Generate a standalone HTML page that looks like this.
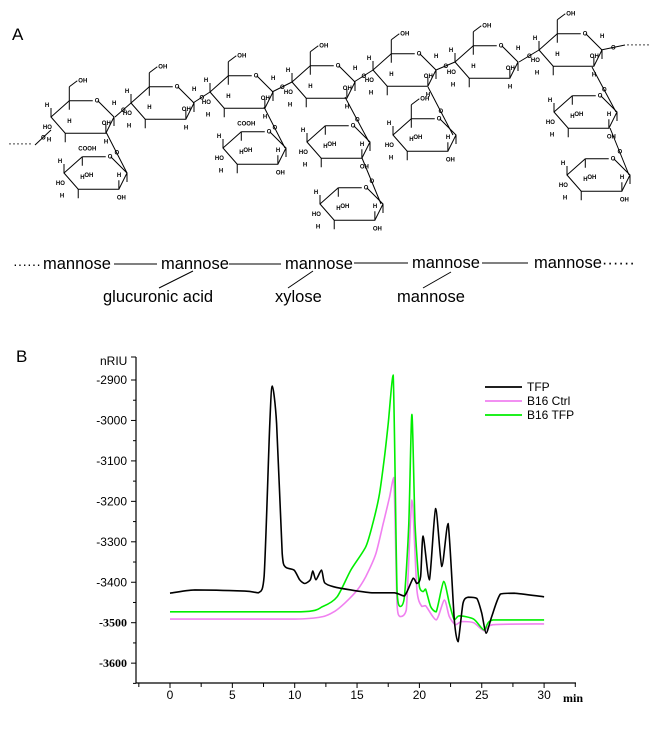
<!DOCTYPE html>
<html><head><meta charset="utf-8"><style>
html,body{margin:0;padding:0;background:#fff;}
svg{display:block;font-family:"Liberation Sans",Arial,sans-serif;}
.r{fill:none;stroke:#000;stroke-width:1;}
.s{font-size:6px;font-weight:bold;}
</style></head><body>
<svg id="fig" width="669" height="738" viewBox="0 0 669 738">
<g id="partA">
<text x="12" y="40" font-size="17">A</text>
</g>
<g id="rows" font-size="16.5">
<text x="13" y="269" font-size="14">······</text>
<text x="43" y="269">mannose</text>
<line x1="114" y1="264" x2="157" y2="264" stroke="#000"/>
<text x="161" y="269">mannose</text>
<line x1="229" y1="264" x2="281" y2="264" stroke="#000"/>
<text x="285" y="269">mannose</text>
<line x1="354" y1="263" x2="408" y2="263" stroke="#000"/>
<text x="412" y="268">mannose</text>
<line x1="482" y1="263" x2="528" y2="263" stroke="#000"/>
<text x="534" y="268">mannose······</text>
<line x1="159" y1="288" x2="193" y2="271" stroke="#000"/>
<line x1="288" y1="288" x2="313" y2="271" stroke="#000"/>
<line x1="423" y1="288" x2="451" y2="272" stroke="#000"/>
<text x="103" y="302">glucuronic acid</text>
<text x="275" y="302">xylose</text>
<text x="397" y="302">mannose</text>
</g>
<g id="chart">
<text x="16" y="362" font-size="17">B</text>
<text x="100" y="365" font-size="12">nRIU</text>
<text x="563" y="702" font-size="12" font-weight="bold" font-family="Liberation Serif,serif">min</text>
<g id="axes"></g>
<g id="series"></g>
<g id="legend"></g>
</g>
</svg>
<script>
const xTicks=[0,5,10,15,20,25,30];
const yTicks=[-2900,-3000,-3100,-3200,-3300,-3400,-3500,-3600];
const seriesNames=["TFP","B16 Ctrl","B16 TFP"];
const tfpT=[0,2,6,7.1,7.55,8.0,8.2,8.55,9.0,9.25,9.95,10.4,10.8,11.25,11.45,11.7,12.15,12.4,13.1,14.5,16.2,18,18.8,19.5,19.8,20.1,20.3,20.8,21.3,21.8,22.3,22.8,23.1,23.5,23.9,24.6,25.0,25.35,25.8,26.5,27.6,30];
const tfpV=[-3427,-3419,-3422,-3426,-3386,-3008,-2915,-3008,-3329,-3362,-3370,-3394,-3403,-3394,-3372,-3394,-3370,-3401,-3411,-3419,-3426,-3426,-3434,-3390,-3403,-3386,-3286,-3394,-3218,-3361,-3255,-3493,-3547,-3452,-3437,-3440,-3477,-3526,-3485,-3429,-3427,-3436];
const ctrlT=[0,10,12.25,13.2,14,15,15.7,16.5,17.1,17.6,17.95,18.2,18.45,18.95,19.4,19.8,20.2,20.5,21.35,22.0,22.4,22.9,23.4,24.35,25.2,25.9,30];
const ctrlV=[-3491,-3491,-3485,-3472,-3452,-3420,-3386,-3330,-3255,-3190,-3141,-3452,-3485,-3468,-3197,-3419,-3460,-3458,-3493,-3444,-3485,-3505,-3497,-3500,-3520,-3505,-3503];
const b16T=[0,10.5,12.25,13.4,14.5,15.7,16.3,16.8,17.2,17.5,17.9,18.2,18.45,18.8,19.15,19.4,19.65,20.0,20.3,20.5,20.9,21.35,21.95,22.4,22.8,23.2,24.35,25.2,25.9,30];
const b16V=[-3473,-3473,-3460,-3436,-3370,-3312,-3250,-3181,-3090,-3008,-2888,-3419,-3460,-3436,-3255,-2985,-3255,-3411,-3423,-3417,-3460,-3473,-3398,-3452,-3493,-3483,-3491,-3518,-3493,-3493];

const NS="http://www.w3.org/2000/svg";
function mk(tag,attrs,parent){const e=document.createElementNS(NS,tag);for(const k in attrs)e.setAttribute(k,attrs[k]);parent.appendChild(e);return e;}
const X=t=>170+12.47*t;
const Y=v=>380+(-2900-v)*0.4045;
const axes=document.getElementById('axes');
const yAxis=mk('line',{x1:136,y1:357,x2:136,y2:683,stroke:'#000','stroke-width':1.2},axes);


const xAxis=mk('line',{x1:136,y1:683,x2:576,y2:683,stroke:'#000','stroke-width':1.2},axes);


mk('line',{x1:131,y1:357,x2:136,y2:357,stroke:'#000'},axes);
yTicks.forEach((v)=>{
  const y=Y(v);
  mk('line',{x1:131,y1:y,x2:136,y2:y,stroke:'#000'},axes);
  mk('line',{x1:133,y1:Y(v-50),x2:136,y2:Y(v-50),stroke:'#000'},axes);
  const t=mk('text',{x:127,y:y+4,'text-anchor':'end','font-size':12},axes);
  if(v<=-3500){t.setAttribute('font-weight','bold');t.setAttribute('font-family','Liberation Serif,serif');}
  t.textContent=String(v);
  
  
});
for(let t=-2.5;t<=32.5;t+=2.5){
  const major=Math.abs(t%5)<1e-6;
  mk('line',{x1:X(t),y1:683,x2:X(t),y2:major?688:687,stroke:'#000'},axes);
}
xTicks.forEach(t=>{
  const l=mk('text',{x:X(t),y:699,'text-anchor':'middle','font-size':12},axes);
  l.textContent=String(t);
  
  
});
const ser=document.getElementById('series');
function smoothPath(P){
  let d='M'+P[0][0].toFixed(1)+','+P[0][1].toFixed(1);
  for(let i=0;i<P.length-1;i++){
    const p0=P[Math.max(0,i-1)],p1=P[i],p2=P[i+1],p3=P[Math.min(P.length-1,i+2)];
    const k=1/8;
    let c1y=p1[1]+(p2[1]-p0[1])*k, c2y=p2[1]-(p3[1]-p1[1])*k;
    const lo=Math.min(p1[1],p2[1]),hi=Math.max(p1[1],p2[1]);
    c1y=Math.min(Math.max(c1y,lo),hi);c2y=Math.min(Math.max(c2y,lo),hi);
    const c1x=p1[0]+(p2[0]-p0[0])*k, c2x=p2[0]-(p3[0]-p1[0])*k;
    d+=' C'+c1x.toFixed(1)+','+c1y.toFixed(1)+' '+c2x.toFixed(1)+','+c2y.toFixed(1)+' '+p2[0].toFixed(1)+','+p2[1].toFixed(1);
  }
  return d;
}
function drawLine(T,V,color,name){
  const pts=T.map((t,i)=>[X(t),Y(V[i])]);
  const p=mk('path',{d:smoothPath(pts),fill:'none',stroke:color,'stroke-width':1.6,'stroke-linejoin':'round'},ser);
  
  
}
drawLine(ctrlT,ctrlV,'#f080f0','series-b16-ctrl');
drawLine(b16T,b16V,'#00ee00','series-b16-tfp');
drawLine(tfpT,tfpV,'#000','series-tfp');
const leg=document.getElementById('legend');
const lc=['#000','#f080f0','#00ee00'];
seriesNames.forEach((n,i)=>{
  const y=387+i*14;
  const ln=mk('line',{x1:485,y1:y,x2:522,y2:y,stroke:lc[i],'stroke-width':1.8},leg);
  
  
  const tx=mk('text',{x:527,y:y+4,'font-size':12},leg);
  tx.textContent=n;
  
  
});

/* Panel A rings */
const A=document.getElementById('partA');
function ring(Lx,Ly,w,name,labels){
  const g=mk('g',{},A);
  
  
  const s=w/62;
  const P=[[0,0],[18,-16],[46,-16],[62,0],[54,16],[14,16]].map(p=>[Lx+p[0]*s,Ly+p[1]*s]);
  mk('polyline',{class:'r',points:[P[2],P[3],P[4],P[5],P[0],P[1]].map(p=>p.join(',')).join(' ')},g);
  mk('line',{class:'r',x1:P[1][0],y1:P[1][1],x2:P[2][0]-5,y2:P[2][1]},g);
  const o=mk('text',{x:P[2][0]-3,y:P[2][1]+2,class:'s'},g);o.textContent='O';
  [[0,-1],[1,1],[4,-1],[5,1],[3,1]].forEach(([i,d])=>{mk('line',{class:'r',x1:P[i][0],y1:P[i][1],x2:P[i][0],y2:P[i][1]+d*9},g);});
  (labels||[]).forEach(l=>{const t=mk('text',{x:Lx+l[1]*s,y:Ly+l[2]*s,class:'s'},g);t.textContent=l[0];});
  return P;
}
const mainLab=[['H',-6,-10],['H',16,6],['HO',-8,12],['H',-4,24],['H',60,-12],['OH',50,8],['H',52,26]];
const ch2=(P)=>{mk('line',{class:'r',x1:P[1][0],y1:P[1][1],x2:P[1][0],y2:P[1][1]-14},A);mk('line',{class:'r',x1:P[1][0],y1:P[1][1]-14,x2:P[1][0]+8,y2:P[1][1]-20},A);const t=mk('text',{x:P[1][0]+9,y:P[1][1]-18,class:'s'},A);t.textContent='OH';};
const main=[[51,117],[131,103],[210,92],[292,82],[373,70],[455,62],[539,50]];
main.forEach((m,i)=>{const P=ring(m[0],m[1],63,'mannose-ring-'+(i+1),mainLab);ch2(P);});
const sideLab=[['H',-6,-10],['H',16,6],['HO',-8,12],['H',-4,24],['OH',20,4],['H',52,4],['OH',52,26]];
const side=[[64,173,'glucuronic-ring-1'],[223,148,'glucuronic-ring-2'],[307,142,'xylose-ring-1'],[320,204,'xylose-ring-2'],[393,135,'mannose-side-ring'],[554,112,'side-ring-1'],[567,175,'side-ring-2']];
side.forEach(s=>{const P=ring(s[0],s[1],63,s[2],sideLab);if(s[2].startsWith('glucuronic')){const t=mk('text',{x:P[1][0]-4,y:P[1][1]-6,class:'s'},A);t.textContent='COOH';}if(s[2]==='mannose-side-ring')ch2(P);});
const links=[[115,117,131,103],[193,103,210,92],[272,92,292,82],[354,82,373,70],[436,70,455,62],[519,62,539,50],[601,50,625,45],[106,132,127,173],[264,107,285,148],[345,97,369,142],[362,158,381,204],[428,87,453,135],[592,67,616,112],[610,128,629,175],[35,145,51,130]];
links.forEach(l=>{const ln=mk('line',{class:'r',x1:l[0],y1:l[1],x2:l[2],y2:l[3]},A);const mx=(l[0]+l[2])/2,my=(l[1]+l[3])/2;const t=mk('text',{x:mx-2,y:my+2,class:'s'},A);t.textContent='O';});
const d1=mk('text',{x:8,y:147,'font-size':12},A);d1.textContent='······';
const d2=mk('text',{x:626,y:48,'font-size':12},A);d2.textContent='······';
</script>
</body></html>
